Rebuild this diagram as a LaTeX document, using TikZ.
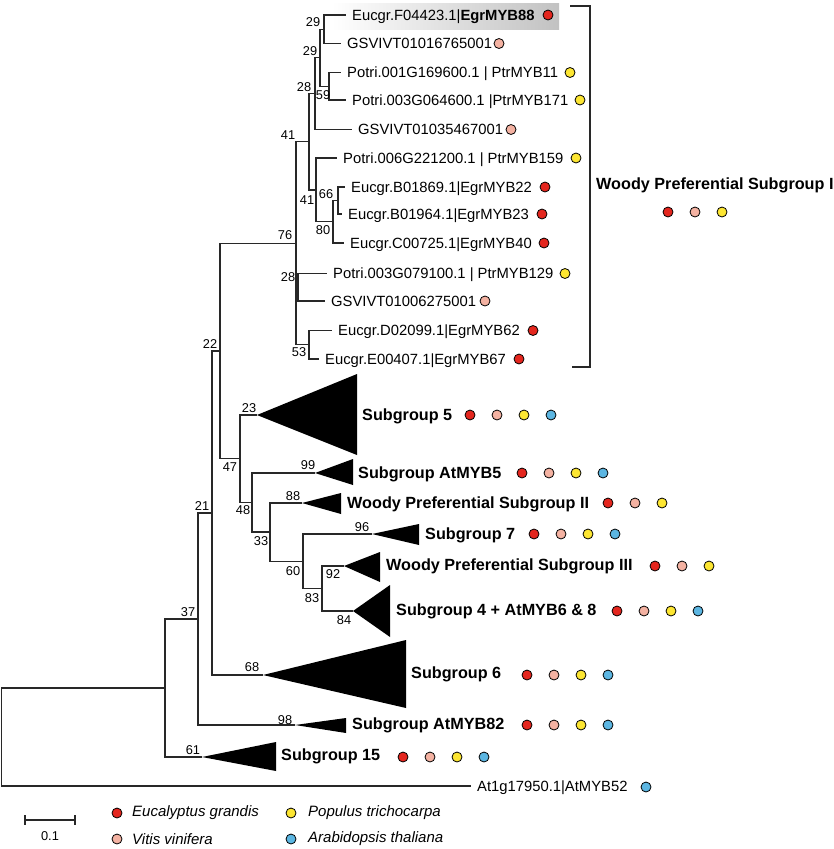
\documentclass[tikz,border=0pt]{standalone}
\usepackage{fontspec}
\setmainfont{Liberation Sans}
\definecolor{cEgr}{RGB}{228,38,30}
\definecolor{cVit}{RGB}{244,178,162}
\definecolor{cPop}{RGB}{253,230,50}
\definecolor{cAra}{RGB}{92,182,226}
\definecolor{brc}{RGB}{40,40,40}
\begin{document}
\begin{tikzpicture}[x=1pt,y=-1pt,
  br/.style={line width=1.2pt, draw=brc},
  lf/.style={br, shorten >=6pt},
  leaf/.style={anchor=west, inner sep=0pt, font=\fontsize{14.8}{16}\selectfont, text height=12pt, text depth=1.4pt},
  grp/.style={anchor=west, inner sep=0pt, font=\bfseries\fontsize{16.2}{18}\selectfont, text height=13pt, text depth=1.4pt},
  bs/.style={inner sep=0pt, font=\fontsize{12.8}{14}\selectfont},
  dot/.style={circle, draw=black, line width=0.8pt, minimum size=10pt, inner sep=0pt},
  tri/.style={fill=black},
  leg/.style={anchor=west, inner sep=0pt, font=\itshape\fontsize{15}{17}\selectfont}
]
\useasboundingbox (0,0) rectangle (834,849);
% highlight
\shade[left color=white, right color=black!24, draw=none] (332,3) rectangle (559,29);

% internal nodes
\coordinate (root) at (1.5,737);
\coordinate (n165) at (165,688);
\coordinate (n37) at (198,619);
\coordinate (n21) at (212,513);
\coordinate (n22) at (220,351);
\coordinate (n76) at (296,243.3);
\coordinate (n41a) at (309,141.8);
\coordinate (n28a) at (315,93.6);
\coordinate (n29b) at (320,57.7);
\coordinate (n29a) at (324,29.2);
\coordinate (n59) at (329,86.2);
\coordinate (n41b) at (316,189.9);
\coordinate (n80) at (333,221.7);
\coordinate (n66) at (338,200.5);
\coordinate (n28b) at (298,287.2);
\coordinate (n53) at (309,344.7);
\coordinate (n47) at (240,458.5);
\coordinate (n48) at (252,502.5);
\coordinate (n33) at (270,532);
\coordinate (n60) at (303,561.2);
\coordinate (n83) at (322,588.5);

% leaves
\node[leaf] (l1) at (352,15) {Eucgr.F04423.1|\textbf{EgrMYB88}};
\node[leaf] (l2) at (347,43.5) {GSVIVT01016765001};
\node[leaf] (l3) at (347,72.5) {Potri.001G169600.1 | PtrMYB11};
\node[leaf] (l4) at (352,100) {Potri.003G064600.1 |PtrMYB171};
\node[leaf] (l5) at (358,129.5) {GSVIVT01035467001};
\node[leaf] (l6) at (343,158) {Potri.006G221200.1 | PtrMYB159};
\node[leaf] (l7) at (351,187) {Eucgr.B01869.1|EgrMYB22};
\node[leaf] (l8) at (348,214) {Eucgr.B01964.1|EgrMYB23};
\node[leaf] (l9) at (350,243) {Eucgr.C00725.1|EgrMYB40};
\node[leaf] (l10) at (333,273.5) {Potri.003G079100.1 | PtrMYB129};
\node[leaf] (l11) at (331,301) {GSVIVT01006275001};
\node[leaf] (l12) at (338,330.5) {Eucgr.D02099.1|EgrMYB62};
\node[leaf] (l13) at (325,359) {Eucgr.E00407.1|EgrMYB67};
\node[leaf] (l14) at (477,786) {At1g17950.1|AtMYB52};

% leaf dots
\node[dot, fill=cEgr] (d1) at (548,15) {};
\node[dot, fill=cVit] (d2) at (499,43.5) {};
\node[dot, fill=cPop] (d3) at (570,72.5) {};
\node[dot, fill=cPop] (d4) at (580,100) {};
\node[dot, fill=cVit] (d5) at (511,129.5) {};
\node[dot, fill=cPop] (d6) at (576,158) {};
\node[dot, fill=cEgr] (d7) at (545,187) {};
\node[dot, fill=cEgr] (d8) at (542,214) {};
\node[dot, fill=cEgr] (d9) at (544,243) {};
\node[dot, fill=cPop] (d10) at (565,273.5) {};
\node[dot, fill=cVit] (d11) at (485,301) {};
\node[dot, fill=cEgr] (d12) at (533,330.5) {};
\node[dot, fill=cEgr] (d13) at (519,359) {};
\node[dot, fill=cAra] (d14) at (646,787) {};

% collapsed clades (apex coordinates)
\coordinate (sg5) at (257,415);
\coordinate (sgA5) at (315,473);
\coordinate (wp2) at (302,503);
\coordinate (sg7) at (372,534);
\coordinate (wp3) at (344,566);
\coordinate (sg4) at (353,611);
\coordinate (sg6) at (263,675);
\coordinate (sgA82) at (295,725);
\coordinate (sg15) at (202,757);
\fill[tri] (sg5) -- (357,374) -- (357,455) -- cycle;
\fill[tri] (sgA5) -- (353,459) -- (353,485) -- cycle;
\fill[tri] (wp2) -- (341,493) -- (341,514) -- cycle;
\fill[tri] (sg7) -- (419,524) -- (419,545) -- cycle;
\fill[tri] (wp3) -- (380,552) -- (380,582) -- cycle;
\fill[tri] (sg4) -- (390,585) -- (390,637) -- cycle;
\fill[tri] (sg6) -- (406,640) -- (406,708) -- cycle;
\fill[tri] (sgA82) -- (346,718) -- (346,733) -- cycle;
\fill[tri] (sg15) -- (276,742) -- (276,771) -- cycle;

% branches
\draw[br] (root) |- (n165);
\draw[lf] (root) |- (l14.west);
\draw[br] (n165) |- (n37);
\draw[br] (n165) |- (sg15);
\draw[br] (n37) |- (n21);
\draw[br] (n37) |- (sgA82);
\draw[br] (n21) |- (n22);
\draw[br] (n21) |- (sg6);
\draw[br] (n22) |- (n76);
\draw[br] (n22) |- (n47);
\draw[br] (n76) |- (n41a);
\draw[br] (n76) |- (n28b);
\draw[br] (n76) |- (n53);
\draw[br] (n41a) |- (n28a);
\draw[br] (n41a) |- (n41b);
\draw[br] (n28a) |- (n29b);
\draw[lf] (n28a) |- (l5.west);
\draw[br] (n29b) |- (n29a);
\draw[br] (n29b) |- (n59);
\draw[lf] (n29a) |- (l1.west);
\draw[lf] (n29a) |- (l2.west);
\draw[lf] (n59) |- (l3.west);
\draw[lf] (n59) |- (l4.west);
\draw[lf] (n41b) |- (l6.west);
\draw[br] (n41b) |- (n80);
\draw[br] (n80) |- (n66);
\draw[lf] (n80) |- (l9.west);
\draw[lf] (n66) |- (l7.west);
\draw[lf] (n66) |- (l8.west);
\draw[lf] (n28b) |- (l10.west);
\draw[lf] (n28b) |- (l11.west);
\draw[lf] (n53) |- (l12.west);
\draw[lf] (n53) |- (l13.west);
\draw[br] (n47) |- (sg5);
\draw[br] (n47) |- (n48);
\draw[br] (n48) |- (sgA5);
\draw[br] (n48) |- (n33);
\draw[br] (n33) |- (wp2);
\draw[br] (n33) |- (n60);
\draw[br] (n60) |- (sg7);
\draw[br] (n60) |- (n83);
\draw[br] (n83) |- (wp3);
\draw[br] (n83) |- (sg4);

% bootstrap values
\node[bs] (b1) at (313,22) {29};
\node[bs] (b2) at (310,51) {29};
\node[bs] (b3) at (304,87) {28};
\node[bs] (b4) at (323,95) {59};
\node[bs] (b5) at (288,135) {41};
\node[bs] (b6) at (307,200) {41};
\node[bs] (b7) at (326,194) {66};
\node[bs] (b8) at (323,230) {80};
\node[bs] (b9) at (285,235) {76};
\node[bs] (b10) at (288,277) {28};
\node[bs] (b11) at (299,352) {53};
\node[bs] (b12) at (210,344) {22};
\node[bs] (b13) at (249,408) {23};
\node[bs] (b14) at (230,467) {47};
\node[bs] (b15) at (308,465) {99};
\node[bs] (b16) at (243,510) {48};
\node[bs] (b17) at (293,496) {88};
\node[bs] (b18) at (261,541) {33};
\node[bs] (b19) at (362,527) {96};
\node[bs] (b20) at (293,571) {60};
\node[bs] (b21) at (333,574) {92};
\node[bs] (b22) at (312,598) {83};
\node[bs] (b23) at (344,620) {84};
\node[bs] (b24) at (202,506) {21};
\node[bs] (b25) at (252,667) {68};
\node[bs] (b26) at (188,612) {37};
\node[bs] (b27) at (285,720) {98};
\node[bs] (b28) at (193,750) {61};

% group labels
\node[grp] (g5) at (362,415) {Subgroup 5};
\node[grp] (gA5) at (358,473) {Subgroup AtMYB5};
\node[grp] (gw2) at (347,503) {Woody Preferential Subgroup II};
\node[grp] (g7) at (425,534) {Subgroup 7};
\node[grp] (gw3) at (386,565) {Woody Preferential Subgroup III};
\node[grp] (g4) at (396,610) {Subgroup 4 + AtMYB6 \& 8};
\node[grp] (g6) at (411,673) {Subgroup 6};
\node[grp] (gA82) at (352,724) {Subgroup AtMYB82};
\node[grp] (g15) at (281,755) {Subgroup 15};
\node[grp] (gw1) at (596,184) {Woody Preferential Subgroup I};

% group dots
\foreach \x/\y in {470/415, 522/473, 534/534, 617/611, 527/675, 527/725, 403/757}{
  \node[dot, fill=cEgr] at (\x,\y) {};
  \node[dot, fill=cVit] at (\x+27,\y) {};
  \node[dot, fill=cPop] at (\x+54,\y) {};
  \node[dot, fill=cAra] at (\x+81,\y) {};
}
\foreach \x/\y in {608/503, 655/566, 668/212}{
  \node[dot, fill=cEgr] at (\x,\y) {};
  \node[dot, fill=cVit] at (\x+27,\y) {};
  \node[dot, fill=cPop] at (\x+54,\y) {};
}

% bracket
\draw[br] (570,6) -- (590,6) -- (590,367) -- (572,367);

% scale bar
\draw[br] (25,820) -- (75,820);
\draw[br] (25,815) -- (25,825);
\draw[br] (75,815) -- (75,825);
\node[bs] (sc) at (50,836) {0.1};

% legend
\node[dot, fill=cEgr] (k1) at (117,813) {};
\node[leg] (t1) at (132,813) {Eucalyptus grandis};
\node[dot, fill=cVit] (k2) at (117,839) {};
\node[leg] (t2) at (132,839) {Vitis vinifera};
\node[dot, fill=cPop] (k3) at (291,813) {};
\node[leg] (t3) at (308,813) {Populus trichocarpa};
\node[dot, fill=cAra] (k4) at (291,839) {};
\node[leg] (t4) at (308,839) {Arabidopsis thaliana};
\end{tikzpicture}
\end{document}
